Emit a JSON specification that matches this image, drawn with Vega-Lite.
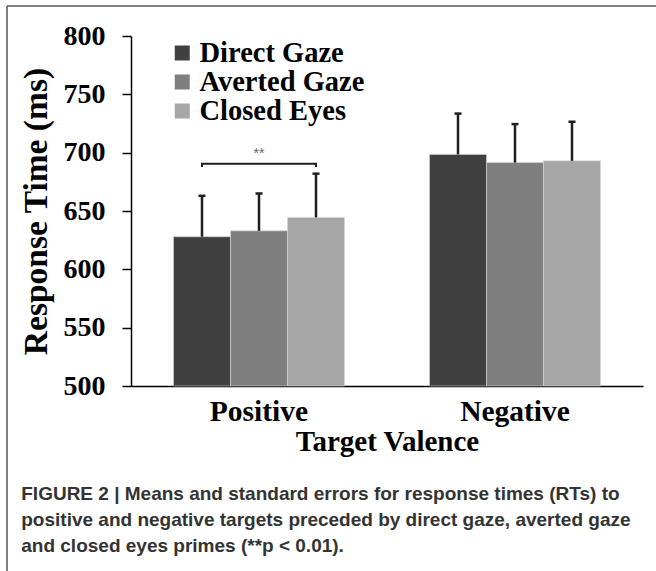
{
  "$schema": "https://vega.github.io/schema/vega-lite/v6.json",
  "width": 512,
  "height": 350,
  "autosize": {"type": "none"},
  "padding": {"left": 131, "top": 36, "right": 13, "bottom": 185},
  "background": "white",
  "datasets": {
    "bars": [
      {"valence": "Positive", "cond": "Direct Gaze", "mean": 628, "upper": 663},
      {"valence": "Positive", "cond": "Averted Gaze", "mean": 633, "upper": 665},
      {"valence": "Positive", "cond": "Closed Eyes", "mean": 644.5, "upper": 682},
      {"valence": "Negative", "cond": "Direct Gaze", "mean": 698.5, "upper": 733.5},
      {"valence": "Negative", "cond": "Averted Gaze", "mean": 691.5, "upper": 724.5},
      {"valence": "Negative", "cond": "Closed Eyes", "mean": 693, "upper": 726.5}
    ],
    "bracket": [
      {"valence": "Positive", "cond": "Direct Gaze", "y": 687.8, "order": 1},
      {"valence": "Positive", "cond": "Direct Gaze", "y": 690.6, "order": 2},
      {"valence": "Positive", "cond": "Closed Eyes", "y": 690.6, "order": 3},
      {"valence": "Positive", "cond": "Closed Eyes", "y": 687.8, "order": 4}
    ],
    "stars": [
      {"valence": "Positive", "cond": "Averted Gaze", "y": 698.5, "label": "**"}
    ]
  },
  "title": {
    "text": [
      "FIGURE 2 | Means and standard errors for response times (RTs) to",
      "positive and negative targets preceded by direct gaze, averted gaze",
      "and closed eyes primes (**p < 0.01)."
    ],
    "orient": "bottom",
    "anchor": "start",
    "frame": "bounds",
    "baseline": "top",
    "offset": -87,
    "dx": 15,
    "font": "Liberation Sans",
    "fontSize": 19,
    "fontWeight": "bold",
    "color": "#333333",
    "lineHeight": 26
  },
  "layer": [
    {
      "data": {"name": "bars"},
      "mark": {"type": "bar", "stroke": "#d8d8d8", "strokeWidth": 0.6},
      "encoding": {
        "x": {
          "field": "valence",
          "type": "nominal",
          "sort": ["Positive", "Negative"],
          "scale": {"paddingInner": 0.332, "paddingOuter": 0.166},
          "axis": {
            "title": "Target Valence",
            "labelAngle": 0,
            "ticks": false,
            "tickSize": 0,
            "labelPadding": 11,
            "labelFont": "Liberation Serif",
            "labelFontWeight": "bold",
            "labelFontSize": 29.5,
            "labelColor": "black",
            "titleFont": "Liberation Serif",
            "titleFontWeight": "bold",
            "titleFontSize": 29,
            "titleColor": "black",
            "titlePadding": 2,
            "domainColor": "black",
            "domainWidth": 1.5
          }
        },
        "xOffset": {
          "field": "cond",
          "type": "nominal",
          "sort": ["Direct Gaze", "Averted Gaze", "Closed Eyes"],
          "scale": {"paddingInner": 0, "paddingOuter": 0}
        },
        "y": {
          "field": "mean",
          "type": "quantitative",
          "scale": {"domain": [500, 800], "nice": false, "zero": false},
          "axis": {
            "title": "Response Time (ms)",
            "values": [500, 550, 600, 650, 700, 750, 800],
            "grid": false,
            "tickSize": 9,
            "tickColor": "black",
            "tickWidth": 1.5,
            "domainColor": "black",
            "domainWidth": 1.5,
            "labelPadding": 17,
            "labelFont": "Liberation Serif",
            "labelFontWeight": "bold",
            "labelFontSize": 28,
            "labelColor": "black",
            "titleFont": "Liberation Serif",
            "titleFontWeight": "bold",
            "titleFontSize": 33.5,
            "titleColor": "black",
            "titlePadding": 10
          }
        },
        "y2": {"datum": 500},
        "color": {
          "field": "cond",
          "type": "nominal",
          "scale": {
            "domain": ["Direct Gaze", "Averted Gaze", "Closed Eyes"],
            "range": ["#404040", "#7f7f7f", "#a6a6a6"]
          },
          "legend": {
            "title": null,
            "orient": "none",
            "legendX": 37,
            "legendY": 5,
            "symbolType": "square",
            "symbolSize": 225,
            "symbolStrokeWidth": 0,
            "symbolOpacity": 1,
            "labelFont": "Liberation Serif",
            "labelFontWeight": "bold",
            "labelFontSize": 28.5,
            "labelColor": "black",
            "labelOffset": 3,
            "labelLimit": 400,
            "clipHeight": 24,
            "rowPadding": 0
          }
        }
      }
    },
    {
      "data": {"name": "bars"},
      "mark": {"type": "rule", "color": "#1e1e1e", "strokeWidth": 2.5},
      "encoding": {
        "x": {"field": "valence", "type": "nominal", "sort": ["Positive", "Negative"]},
        "xOffset": {"field": "cond", "type": "nominal", "sort": ["Direct Gaze", "Averted Gaze", "Closed Eyes"]},
        "y": {"field": "mean", "type": "quantitative"},
        "y2": {"field": "upper"}
      }
    },
    {
      "data": {"name": "bars"},
      "mark": {"type": "tick", "orient": "horizontal", "size": 7, "thickness": 2.5, "color": "#1e1e1e", "opacity": 1},
      "encoding": {
        "x": {"field": "valence", "type": "nominal", "sort": ["Positive", "Negative"]},
        "xOffset": {"field": "cond", "type": "nominal", "sort": ["Direct Gaze", "Averted Gaze", "Closed Eyes"]},
        "y": {"field": "upper", "type": "quantitative"}
      }
    },
    {
      "data": {"name": "bracket"},
      "mark": {"type": "line", "color": "#1e1e1e", "strokeWidth": 2},
      "encoding": {
        "x": {"field": "valence", "type": "nominal", "sort": ["Positive", "Negative"]},
        "xOffset": {"field": "cond", "type": "nominal", "sort": ["Direct Gaze", "Averted Gaze", "Closed Eyes"]},
        "y": {"field": "y", "type": "quantitative"},
        "order": {"field": "order", "type": "quantitative"}
      }
    },
    {
      "data": {"name": "stars"},
      "mark": {"type": "text", "font": "Liberation Sans", "fontSize": 14, "color": "#666666", "baseline": "middle"},
      "encoding": {
        "x": {"field": "valence", "type": "nominal", "sort": ["Positive", "Negative"]},
        "xOffset": {"field": "cond", "type": "nominal", "sort": ["Direct Gaze", "Averted Gaze", "Closed Eyes"]},
        "y": {"field": "y", "type": "quantitative"},
        "text": {"field": "label"}
      }
    },
    {
      "data": {"values": [{}]},
      "mark": {"type": "rule", "color": "#555555", "strokeWidth": 1.5},
      "encoding": {
        "x": {"value": -124},
        "x2": {"value": 525},
        "y": {"value": -30}
      }
    },
    {
      "data": {"values": [{}]},
      "mark": {"type": "rule", "color": "#555555", "strokeWidth": 1.5},
      "encoding": {
        "x": {"value": -124},
        "y": {"value": -30},
        "y2": {"value": 535}
      }
    }
  ],
  "config": {"view": {"stroke": null}}
}
